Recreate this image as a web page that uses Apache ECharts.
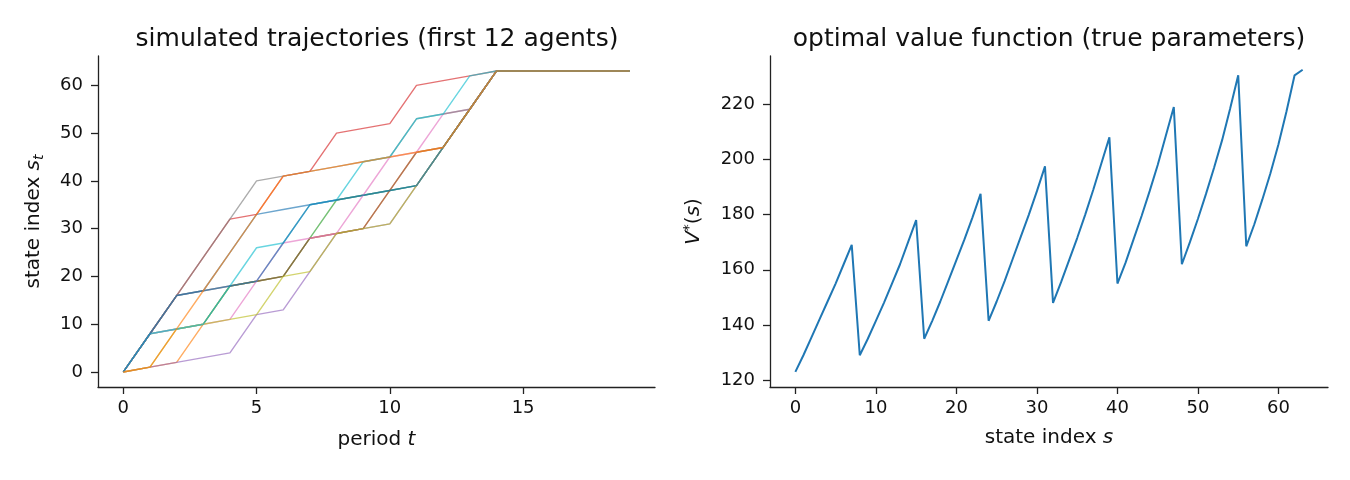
<!DOCTYPE html>
<html>
<head>
<meta charset="utf-8">
<script src="https://cdn.jsdelivr.net/npm/echarts@6/dist/echarts.min.js"></script>
<style>
  html, body { margin: 0; padding: 0; background: #fff; }
  #chart { width: 1350px; height: 480px; }
</style>
</head>
<body>
<div id="chart"></div>
<script>
// periods 0..19, state index read per agent
const periods = [0,1,2,3,4,5,6,7,8,9,10,11,12,13,14,15,16,17,18,19];

const agent0  = [0,8,16,17,25,33,34,35,36,37,38,39,47,55,63,63,63,63,63,63];
const agent1  = [0,1,2,10,18,19,20,28,29,30,38,46,47,55,63,63,63,63,63,63];
const agent2  = [0,8,9,10,18,19,20,28,36,37,38,39,47,55,63,63,63,63,63,63];
const agent3  = [0,8,16,24,32,33,41,42,50,51,52,60,61,62,63,63,63,63,63,63];
const agent4  = [0,1,2,3,4,12,13,21,29,30,31,39,47,55,63,63,63,63,63,63];
const agent5  = [0,8,16,17,18,19,20,28,29,30,38,46,47,55,63,63,63,63,63,63];
const agent6  = [0,8,9,10,11,19,27,28,29,37,45,46,54,55,63,63,63,63,63,63];
const agent7  = [0,8,16,24,32,40,41,42,43,44,45,53,54,55,63,63,63,63,63,63];
const agent8  = [0,1,9,10,11,12,20,21,29,30,31,39,47,55,63,63,63,63,63,63];
const agent9  = [0,8,9,10,18,26,27,35,36,44,45,53,54,62,63,63,63,63,63,63];
const agent10 = [0,8,16,17,18,19,27,35,36,37,38,39,47,55,63,63,63,63,63,63];
const agent11 = [0,1,9,17,25,33,41,42,43,44,45,46,47,55,63,63,63,63,63,63];

const agents = [agent0, agent1, agent2, agent3, agent4, agent5,
                agent6, agent7, agent8, agent9, agent10, agent11];

// optimal value function over state index 0..63
const stateIdx = Array.from({ length: 64 }, (_, i) => i);
const valueFn = [
  123, 129, 135.5, 142, 148.5, 155, 162, 169,
  129, 135, 141.5, 148, 155, 162, 170, 178,
  135, 141.5, 148.5, 156, 163.5, 171, 179, 187.5,
  141.5, 148.5, 156, 164, 172, 180, 188.5, 197.5,
  148, 155.5, 163.5, 171.5, 180, 189, 198.5, 208,
  155, 162.5, 171, 179.5, 188.5, 198, 208.5, 219,
  162, 170, 178.5, 187.5, 197, 207, 218.5, 230.5,
  168.5, 176.5, 185.5, 195, 205.5, 217.5, 230.5, 232.5
];

const leftXTicks = [0, 5, 10, 15];
const leftYTicks = [0, 10, 20, 30, 40, 50, 60];
const rightXTicks = [0, 10, 20, 30, 40, 50, 60];
const rightYTicks = [120, 140, 160, 180, 200, 220];

const tab10 = ['#1f77b4', '#ff7f0e', '#2ca02c', '#d62728', '#9467bd',
               '#8c564b', '#e377c2', '#7f7f7f', '#bcbd22', '#17becf'];

const FONT = 'DejaVu Sans';
const ink = '#222';

function axisCommon(ticks, margin) {
    return {
        type: 'value',
        splitLine: { show: false },
        axisLine: { show: true, onZero: false, lineStyle: { color: ink, width: 1.3 } },
        axisTick: { show: true, length: 7, lineStyle: { color: ink, width: 1.3 }, customValues: ticks },
        axisLabel: { color: '#111', fontSize: 18, fontFamily: FONT, margin: margin, customValues: ticks }
    };
}

const richName = {
    n: { fontSize: 20, fontFamily: FONT, color: '#111' },
    i: { fontSize: 20, fontFamily: FONT, fontStyle: 'italic', color: '#111' },
    sub: { fontSize: 14, fontFamily: FONT, fontStyle: 'italic', color: '#111', padding: [10, 0, 0, 0] },
    sup: { fontSize: 14, fontFamily: FONT, color: '#111', padding: [0, 0, 10, 0] }
};

const myChart = echarts.init(document.getElementById('chart'));

const trajSeries = agents.map((path, k) => ({
    name: 'agent ' + k,
    type: 'line',
    xAxisIndex: 0,
    yAxisIndex: 0,
    data: periods.map((t, j) => [t, path[j]]),
    showSymbol: false,
    lineStyle: { width: 1.4, color: tab10[k % 10], opacity: 0.65 },
    z: 2 + k
}));

const option = {
    animation: false,
    backgroundColor: '#fff',
    title: [
        {
            text: 'simulated trajectories (first 12 agents)',
            left: 372, top: 22, textAlign: 'center',
            textStyle: { fontFamily: FONT, fontSize: 25, fontWeight: 'normal', color: '#111' }
        },
        {
            text: 'optimal value function (true parameters)',
            left: 1044, top: 22, textAlign: 'center',
            textStyle: { fontFamily: FONT, fontSize: 25, fontWeight: 'normal', color: '#111' }
        }
    ],
    grid: [
        { left: 98, top: 56, width: 557, height: 331 },
        { left: 770, top: 56, width: 558, height: 331 }
    ],
    xAxis: [
        Object.assign(axisCommon(leftXTicks, 12), {
            gridIndex: 0, min: -0.95, max: 19.95,
            name: '{n|period }{i|t}', nameLocation: 'middle', nameGap: 43,
            nameTextStyle: { rich: richName }
        }),
        Object.assign(axisCommon(rightXTicks, 12), {
            gridIndex: 1, min: -3.15, max: 66.15,
            name: '{n|state index }{i|s}', nameLocation: 'middle', nameGap: 41,
            nameTextStyle: { rich: richName }
        })
    ],
    yAxis: [
        Object.assign(axisCommon(leftYTicks, 15), {
            gridIndex: 0, min: -3.15, max: 66.15,
            name: '{n|state index }{i|s}{sub|t}', nameLocation: 'middle', nameGap: 52, nameRotate: 90,
            nameTextStyle: { rich: richName }
        }),
        Object.assign(axisCommon(rightYTicks, 15), {
            gridIndex: 1, min: 117.5, max: 237.5,
            name: '{i|V}{sup|*}{n|(}{i|s}{n|)}', nameLocation: 'middle', nameGap: 64, nameRotate: 90,
            nameTextStyle: { rich: richName }
        })
    ],
    series: trajSeries.concat([
        {
            name: 'V*',
            type: 'line',
            xAxisIndex: 1,
            yAxisIndex: 1,
            data: stateIdx.map((s, j) => [s, valueFn[j]]),
            showSymbol: false,
            lineStyle: { width: 2, color: '#1f77b4' }
        }
    ])
};

myChart.setOption(option);
</script>
</body>
</html>
